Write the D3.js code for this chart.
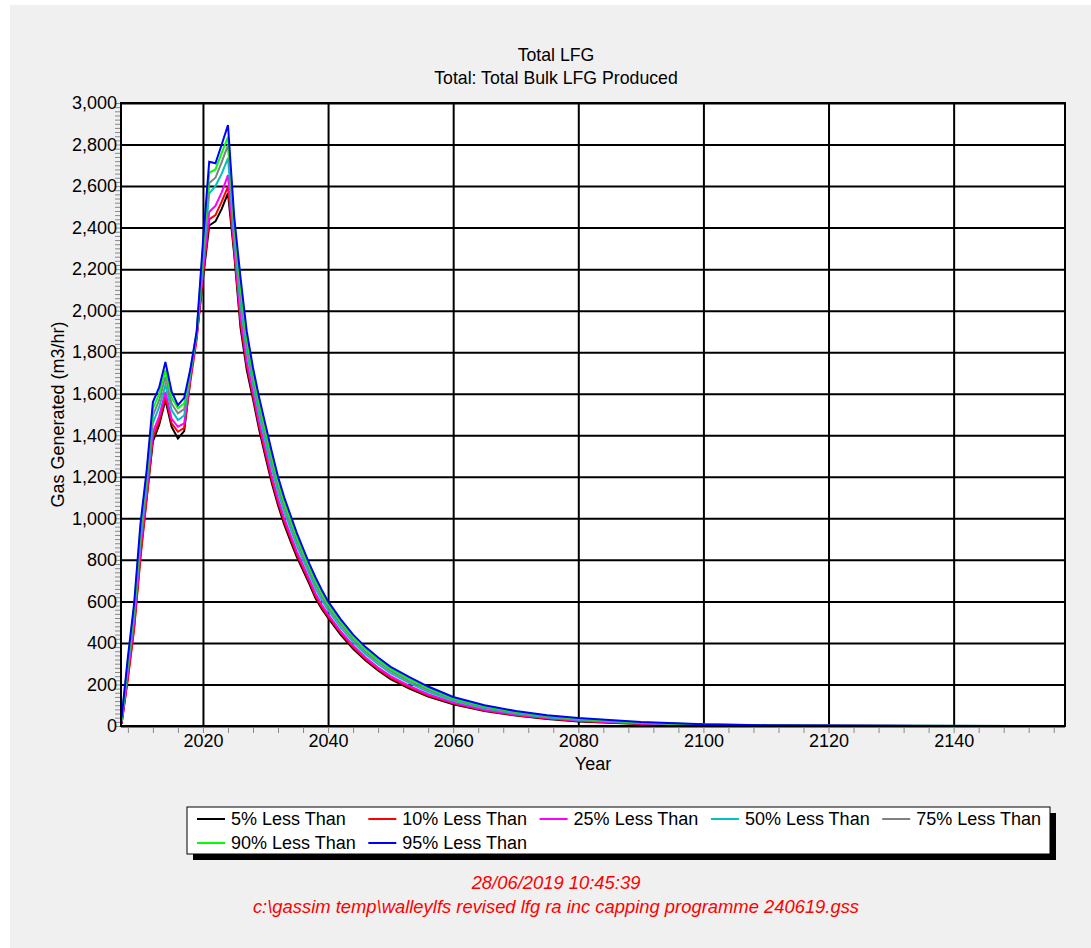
<!DOCTYPE html>
<html>
<head>
<meta charset="utf-8">
<script src="https://cdn.jsdelivr.net/npm/d3@7"></script>
<style>
  body { margin: 0; background: #fff; }
  text { font-family: 'Liberation Sans', Arial, sans-serif; }
</style>
</head>
<body>
<div id="my_chart"></div>
<script>
const years = [2007, 2008, 2009, 2010, 2011, 2012, 2013, 2014, 2015, 2016,
  2017, 2018, 2019, 2020, 2021, 2022, 2023, 2024, 2025, 2026,
  2027, 2028, 2029, 2030, 2031, 2032, 2033, 2034, 2035, 2036,
  2037, 2038, 2039, 2040, 2042, 2044, 2046, 2048, 2050, 2053,
  2056, 2060, 2065, 2070, 2075, 2080, 2090, 2100, 2110, 2120, 2135, 2158];

const p5 = [10, 240, 480, 820, 1100, 1370, 1450, 1570, 1440, 1385,
  1420, 1680, 1880, 2150, 2410, 2430, 2490, 2566, 2270, 1920,
  1715, 1575, 1425, 1295, 1170, 1063, 970, 890, 815, 750,
  685, 615, 563, 520, 440, 372, 315, 267, 226, 180,
  142, 105, 72, 50, 34, 22, 10, 4, 1.5, 0.5, 0.2, 0];
const p10 = [13, 225, 465, 805, 1090, 1389, 1468, 1586, 1457, 1417,
  1436, 1660, 1860, 2168, 2440, 2460, 2525, 2597, 2288, 1944,
  1734, 1590, 1441, 1311, 1185, 1077, 983, 903, 827, 761,
  695, 625, 572, 528, 448, 379, 322, 273, 232, 186,
  147, 109, 75, 52, 36, 24, 11, 4.5, 1.8, 0.7, 0.3, 0.05];
const p25 = [17, 261, 505, 855, 1130, 1414, 1491, 1610, 1479, 1441,
  1457, 1689, 1885, 2191, 2475, 2505, 2570, 2653, 2311, 1975,
  1758, 1610, 1461, 1331, 1205, 1095, 1000, 919, 841, 774,
  707, 638, 584, 538, 457, 388, 330, 281, 240, 193,
  153, 113, 78, 55, 38, 26, 12, 5, 2, 0.9, 0.3, 0.1];
const p50 = [24, 282, 532, 890, 1161, 1459, 1535, 1642, 1520, 1473,
  1495, 1699, 1889, 2235, 2565, 2600, 2660, 2735, 2355, 2033,
  1802, 1646, 1498, 1368, 1241, 1127, 1031, 949, 869, 799,
  731, 662, 606, 558, 475, 404, 346, 297, 254, 206,
  165, 121, 85, 60, 42, 30, 14, 6, 2.7, 1.2, 0.5, 0.15];
const p75 = [30, 299, 553, 919, 1186, 1495, 1569, 1682, 1552, 1506,
  1526, 1706, 1893, 2269, 2615, 2640, 2715, 2797, 2389, 2078,
  1837, 1674, 1527, 1397, 1270, 1153, 1056, 973, 891, 819,
  749, 681, 624, 573, 490, 417, 358, 309, 265, 216,
  174, 128, 90, 65, 46, 33, 16, 7, 3.2, 1.5, 0.6, 0.2];
const p90 = [35, 315, 571, 945, 1208, 1528, 1599, 1714, 1581, 1530,
  1553, 1713, 1897, 2299, 2665, 2680, 2760, 2837, 2419, 2119,
  1869, 1700, 1554, 1424, 1296, 1177, 1078, 994, 910, 837,
  766, 698, 639, 586, 502, 428, 369, 319, 275, 226,
  182, 134, 95, 68, 49, 35, 17, 7.5, 3.6, 1.8, 0.7, 0.25];
const p95 = [40, 330, 590, 970, 1230, 1560, 1630, 1753, 1610, 1545,
  1580, 1720, 1900, 2330, 2717, 2710, 2800, 2894, 2450, 2160,
  1900, 1725, 1580, 1450, 1322, 1200, 1100, 1015, 930, 855,
  782, 715, 655, 600, 515, 440, 380, 330, 285, 235,
  190, 140, 100, 72, 52, 38, 19, 8, 4, 2, 0.8, 0.3];

const seriesNames = ['5% Less Than', '10% Less Than', '25% Less Than', '50% Less Than',
  '75% Less Than', '90% Less Than', '95% Less Than'];
const seriesValues = [p5, p10, p25, p50, p75, p90, p95];
const seriesColors = ['#000000', '#ff0000', '#ff00ff', '#00c0c0', '#808080', '#00ff00', '#0000ff'];

const yTickValues = [0, 200, 400, 600, 800, 1000, 1200, 1400, 1600, 1800, 2000,
  2200, 2400, 2600, 2800, 3000];
const xTickValues = [2020, 2040, 2060, 2080, 2100, 2120, 2140];

const width = 1091;
const height = 948;
const plot = { left: 121, top: 103, right: 1065, bottom: 726 };
const FONT = "'Liberation Sans', Arial, sans-serif";

const svg = d3
  .select('#my_chart')
  .append('svg')
  .attr('width', width)
  .attr('height', height);

svg.append('rect').attr('width', width).attr('height', height).attr('fill', '#ffffff');
svg.append('rect').attr('x', 10).attr('y', 5)
  .attr('width', width - 10).attr('height', height - 5).attr('fill', '#f0f0f0');

const x = d3.scaleLinear().domain([2006.9, 2157.8]).range([plot.left, plot.right]);
const y = d3.scaleLinear().domain([0, 3000]).range([plot.bottom, plot.top]);

// plot background
svg.append('rect')
  .attr('x', plot.left).attr('y', plot.top)
  .attr('width', plot.right - plot.left).attr('height', plot.bottom - plot.top)
  .attr('fill', '#ffffff');

// grid
svg.append('g')
  .attr('transform', `translate(${plot.left},0)`)
  .call(d3.axisLeft(y).tickValues(yTickValues).tickSize(-(plot.right - plot.left)).tickFormat(''))
  .call((g) => g.select('.domain').remove())
  .selectAll('line').attr('stroke', '#000').attr('stroke-width', 2);
svg.append('g')
  .attr('transform', `translate(0,${plot.bottom})`)
  .call(d3.axisBottom(x).tickValues(xTickValues).tickSize(-(plot.bottom - plot.top)).tickFormat(''))
  .call((g) => g.select('.domain').remove())
  .selectAll('line').attr('stroke', '#000').attr('stroke-width', 2);

// minor ticks
svg.append('g')
  .attr('transform', `translate(${plot.left - 1},0)`)
  .call(d3.axisLeft(y).tickValues(d3.range(0, 3001, 20)).tickSize(5).tickFormat(''))
  .call((g) => g.select('.domain').remove())
  .selectAll('line').attr('stroke', '#888');
svg.append('g')
  .attr('transform', `translate(0,${plot.bottom + 1})`)
  .call(d3.axisBottom(x).tickValues(d3.range(2008, 2158, 4)).tickSize(6).tickFormat(''))
  .call((g) => g.select('.domain').remove())
  .selectAll('line').attr('stroke', '#888');

// tick labels
svg.append('g')
  .attr('transform', `translate(${plot.left},0)`)
  .call(d3.axisLeft(y).tickValues(yTickValues).tickSize(0).tickPadding(4).tickFormat(d3.format(',')))
  .call((g) => g.select('.domain').remove())
  .selectAll('text')
  .attr('font-size', 18)
  .attr('font-family', FONT)
  .attr('fill', '#000');
svg.append('g')
  .attr('transform', `translate(0,${plot.bottom})`)
  .call(d3.axisBottom(x).tickValues(xTickValues).tickSize(0).tickPadding(8).tickFormat(d3.format('d')))
  .call((g) => g.select('.domain').remove())
  .selectAll('text')
  .attr('font-size', 18)
  .attr('font-family', FONT)
  .attr('fill', '#000');

// series
svg.append('clipPath').attr('id', 'plot-clip')
  .append('rect')
  .attr('x', plot.left).attr('y', plot.top)
  .attr('width', plot.right - plot.left).attr('height', plot.bottom - plot.top);

const line = d3.line().x((d) => x(d[0])).y((d) => y(d[1]));
svg.append('g')
  .attr('clip-path', 'url(#plot-clip)')
  .selectAll('path')
  .data(seriesValues)
  .enter()
  .append('path')
  .attr('d', (vals) => line(vals.map((v, i) => [years[i], v])))
  .attr('fill', 'none')
  .attr('stroke', (d, i) => seriesColors[i])
  .attr('stroke-width', 2)
  .attr('stroke-linejoin', 'miter');

// plot border
svg.append('rect')
  .attr('x', plot.left).attr('y', plot.top)
  .attr('width', plot.right - plot.left).attr('height', plot.bottom - plot.top)
  .attr('fill', 'none').attr('stroke', '#000').attr('stroke-width', 2);

// titles
svg.append('text').attr('x', 556).attr('y', 61).attr('text-anchor', 'middle')
  .attr('font-size', 17.7).text('Total LFG');
svg.append('text').attr('x', 556).attr('y', 84).attr('text-anchor', 'middle')
  .attr('font-size', 17.7).text('Total: Total Bulk LFG Produced');
svg.append('text').attr('x', (plot.left + plot.right) / 2).attr('y', 770).attr('text-anchor', 'middle')
  .attr('font-size', 18).text('Year');
svg.append('text')
  .attr('transform', `translate(64,${(plot.top + plot.bottom) / 2}) rotate(-90)`)
  .attr('text-anchor', 'middle')
  .attr('font-size', 18).text('Gas Generated (m3/hr)');

// legend
const legend = { x: 187, y: 807, w: 863, h: 47 };
svg.append('rect').attr('x', legend.x + 6).attr('y', legend.y + 6)
  .attr('width', legend.w).attr('height', legend.h).attr('fill', '#000');
svg.append('rect').attr('x', legend.x).attr('y', legend.y)
  .attr('width', legend.w).attr('height', legend.h)
  .attr('fill', '#fff').attr('stroke', '#000').attr('stroke-width', 1);

const items = svg.append('g')
  .selectAll('g')
  .data(seriesNames)
  .enter()
  .append('g')
  .attr('transform', (d, i) => `translate(${legend.x + 10 + (i % 5) * 171.3},${legend.y + 12 + Math.floor(i / 5) * 24})`);
items.append('line').attr('x1', 0).attr('x2', 28).attr('y1', 0).attr('y2', 0)
  .attr('stroke', (d, i) => seriesColors[i]).attr('stroke-width', 2);
items.append('text').attr('x', 34).attr('y', 6)
  .attr('font-size', 18).text((d) => d);

// footer
svg.append('text').attr('x', 556).attr('y', 889).attr('text-anchor', 'middle')
  .attr('font-size', 18.4).attr('font-style', 'italic').attr('fill', '#ff0000')
  .text('28/06/2019 10:45:39');
svg.append('text').attr('x', 556).attr('y', 913).attr('text-anchor', 'middle')
  .attr('font-size', 18.4).attr('font-style', 'italic').attr('fill', '#ff0000')
  .text('c:\\gassim temp\\walleylfs revised lfg ra inc capping programme 240619.gss');
</script>
</body>
</html>
